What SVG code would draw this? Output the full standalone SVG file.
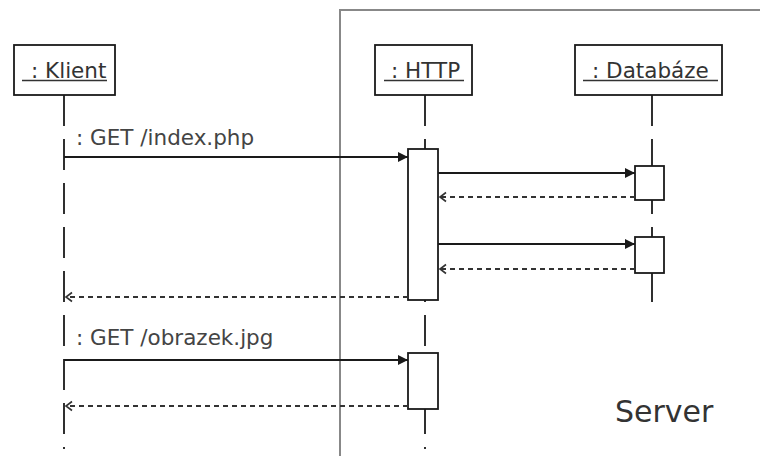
<svg xmlns="http://www.w3.org/2000/svg" width="760" height="456" viewBox="0 0 760 456">
<style>
.bg{fill:#ffffff}
.frame{fill:none;stroke:#888888;stroke-width:2}
.obj{fill:#ffffff;stroke:#1a1a1a;stroke-width:1.8}
.act{fill:#ffffff;stroke:#1a1a1a;stroke-width:1.8}
.life{stroke:#1a1a1a;stroke-width:1.8;stroke-dasharray:31,13;fill:none}
.t{font-family:"DejaVu Sans",Verdana,sans-serif;font-size:21.5px;fill:#333333}
.u{stroke:#333333;stroke-width:1.4}
.msg{stroke:#1a1a1a;stroke-width:1.8;fill:none}
.ret{stroke:#333333;stroke-width:1.8;fill:none;stroke-dasharray:5,4}
.lbl{font-family:"DejaVu Sans",Verdana,sans-serif;font-size:21.5px;fill:#444444}
.srv{font-family:"DejaVu Sans",Verdana,sans-serif;font-size:30px;fill:#333333}
</style>
<defs>
<marker id="fill" markerUnits="userSpaceOnUse" markerWidth="12" markerHeight="12" refX="10" refY="6" orient="auto">
<path d="M0,1 L10,6 L0,11 z" fill="#1a1a1a"/>
</marker>
<marker id="open" markerUnits="userSpaceOnUse" markerWidth="10" markerHeight="12" refX="7" refY="6" orient="auto">
<path d="M1,1.5 L7,6 L1,10.5" fill="none" stroke="#333333" stroke-width="1.6"/>
</marker>
</defs>
<rect class="bg" x="0" y="0" width="760" height="456"/>

<g id="server">
<path class="frame" d="M340,470 L340,10 L770,10"/>
<text class="srv" x="615" y="422">Server</text>
</g>

<g id="klient">
<line class="life" x1="64" y1="95" x2="64" y2="449"/>
<rect class="obj" x="14" y="45" width="101" height="50"/>
<text class="t" x="31" y="78">: Klient</text>
<line class="u" x1="22" y1="80.5" x2="107" y2="80.5"/>
</g>

<g id="http">
<line class="life" x1="425" y1="95" x2="425" y2="449"/>
<rect class="obj" x="375" y="45" width="97" height="50"/>
<text class="t" x="391" y="78">: HTTP</text>
<line class="u" x1="384" y1="80.5" x2="464" y2="80.5"/>
<rect class="act" x="408" y="149" width="30" height="151"/>
<rect class="act" x="408" y="353" width="30" height="56"/>
</g>

<g id="databaze">
<line class="life" x1="652" y1="95" x2="652" y2="304"/>
<rect class="obj" x="575" y="45" width="147" height="50"/>
<text class="t" x="592" y="78">: Databáze</text>
<line class="u" x1="583" y1="80.5" x2="718" y2="80.5"/>
<rect class="act" x="635" y="166" width="29" height="34"/>
<rect class="act" x="635" y="237" width="29" height="36"/>
</g>

<g id="connectors">
<line class="msg" x1="64" y1="157" x2="408" y2="157" marker-end="url(#fill)"/>
<text class="lbl" x="76" y="145">: GET /index.php</text>
<line class="msg" x1="438" y1="173" x2="635" y2="173" marker-end="url(#fill)"/>
<line class="ret" x1="635" y1="197" x2="440" y2="197" marker-end="url(#open)"/>
<line class="msg" x1="438" y1="244" x2="635" y2="244" marker-end="url(#fill)"/>
<line class="ret" x1="635" y1="269" x2="440" y2="269" marker-end="url(#open)"/>
<line class="ret" x1="408" y1="297" x2="66" y2="297" marker-end="url(#open)"/>
<line class="msg" x1="64" y1="360" x2="408" y2="360" marker-end="url(#fill)"/>
<text class="lbl" x="76" y="345">: GET /obrazek.jpg</text>
<line class="ret" x1="408" y1="406" x2="66" y2="406" marker-end="url(#open)"/>
</g>
</svg>
